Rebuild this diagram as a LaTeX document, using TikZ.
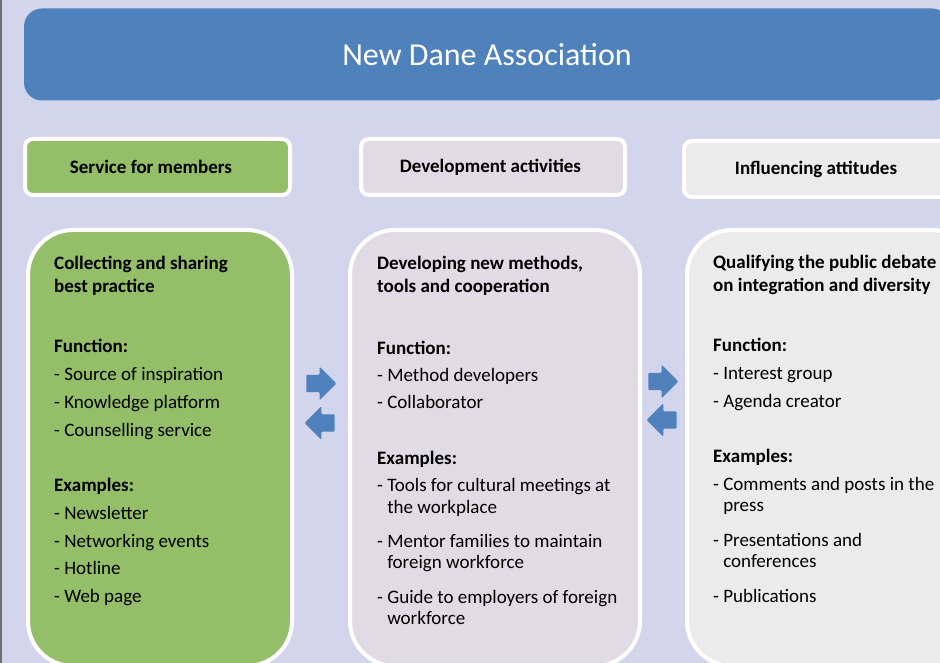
\documentclass[tikz,border=0pt]{standalone}
\usepackage{fontspec}
\setmainfont{Carlito}
\usepackage{xcolor}
\usetikzlibrary{shapes.arrows, positioning}

\definecolor{bgblue}{HTML}{D3D5EC}
\definecolor{edgegrey}{HTML}{6E6E6E}
\definecolor{titleblue}{HTML}{4F81BD}
\definecolor{memgreen}{HTML}{95BE68}
\definecolor{devlilac}{HTML}{E0DBE5}
\definecolor{inflgrey}{HTML}{EBEBEB}

\tikzstyle{title} = [rectangle, rounded corners=18pt, minimum width=926pt, minimum height=92pt, fill=titleblue, text=white, font=\fontsize{32}{36}\selectfont]
\tikzstyle{header} = [rectangle, rounded corners=8pt, minimum height=56pt, draw=white, line width=4pt, font=\fontsize{19}{21}\selectfont\bfseries, text centered]
\tikzstyle{column} = [rectangle, rounded corners=45pt, minimum height=436pt, draw=white, line width=4pt, anchor=north west]
\tikzstyle{content} = [inner sep=0pt, align=left, font=\fontsize{19}{21}\selectfont]
\tikzstyle{flow} = [single arrow, fill=titleblue, minimum height=30pt, inner xsep=0pt, inner ysep=8.5pt, single arrow head extend=8pt, rounded corners=1pt]

\newcommand{\wrapin}{\hphantom{-\ }}
\newcommand{\padright}[1]{\rule{#1}{0pt}}

\begin{document}
\begin{tikzpicture}[x=1pt, y=-1pt]
    \useasboundingbox (0,0) rectangle (940,663);
    \clip (0,0) rectangle (940,663);
    \fill[bgblue] (0,0) rectangle (940,663);
    \draw[edgegrey, line width=2pt] (1,0) -- (1,663);

    % Banner
    \node[title] (banner) at (487,54.5) {New Dane Association};

    % Headers
    \node[header, fill=memgreen, minimum width=265pt] (memhead) at (157.5,167) {Service for members\padright{13pt}};
    \node[header, fill=devlilac, minimum width=264pt] (devhead) at (493,167) {Development activities\padright{5pt}};
    \node[header, fill=inflgrey, minimum width=264pt] (inflhead) at (816,169) {Influencing attitudes};

    % Columns
    \node[column, fill=memgreen, minimum width=264pt] (memcol) at (26,228) {};
    \node[column, fill=devlilac, minimum width=290pt] (devcol) at (348,228) {};
    \node[column, fill=inflgrey, minimum width=290pt] (inflcol) at (685,228) {};

    % Service for members
    \node[content, below right=28pt and 28pt of memcol.north west] (memtext) {%
        \textbf{Collecting and sharing}\\[2pt]
        \textbf{best practice}\\[39pt]
        \textbf{Function:}\\[7pt]
        - Source of inspiration\\[7pt]
        - Knowledge platform\\[7pt]
        - Counselling service\\[34pt]
        \textbf{Examples:}\\[7pt]
        - Newsletter\\[7pt]
        - Networking events\\[6pt]
        - Hotline\\[7pt]
        - Web page};

    % Development activities
    \node[content, below right=28pt and 29pt of devcol.north west] (devtext) {%
        \textbf{Developing new methods,}\\[2pt]
        \textbf{tools and cooperation}\\[41pt]
        \textbf{Function:}\\[6pt]
        - Method developers\\[6pt]
        - Collaborator\\[35pt]
        \textbf{Examples:}\\[6pt]
        - Tools for cultural meetings at\\[1pt]
        \wrapin the workplace\\[13pt]
        - Mentor families to maintain\\
        \wrapin foreign workforce\\[14pt]
        - Guide to employers of foreign\\
        \wrapin workforce};

    % Influencing attitudes
    \node[content, below right=27pt and 28pt of inflcol.north west] (infltext) {%
        \textbf{Qualifying the public debate}\\[2pt]
        \textbf{on integration and diversity}\\[39pt]
        \textbf{Function:}\\[7pt]
        - Interest group\\[7pt]
        - Agenda creator\\[34pt]
        \textbf{Examples:}\\[7pt]
        - Comments and posts in the\\
        \wrapin press\\[14pt]
        - Presentations and\\
        \wrapin conferences\\[14pt]
        - Publications};

    % Exchange arrows
    \node[flow] (memtodev) at (317,383.5) {};
    \node[flow, shape border rotate=180] (devtomem) at (324,423) {};
    \node[flow] (devtoinfl) at (659,381.5) {};
    \node[flow, shape border rotate=180] (infltodev) at (666,420) {};

\end{tikzpicture}
\end{document}
